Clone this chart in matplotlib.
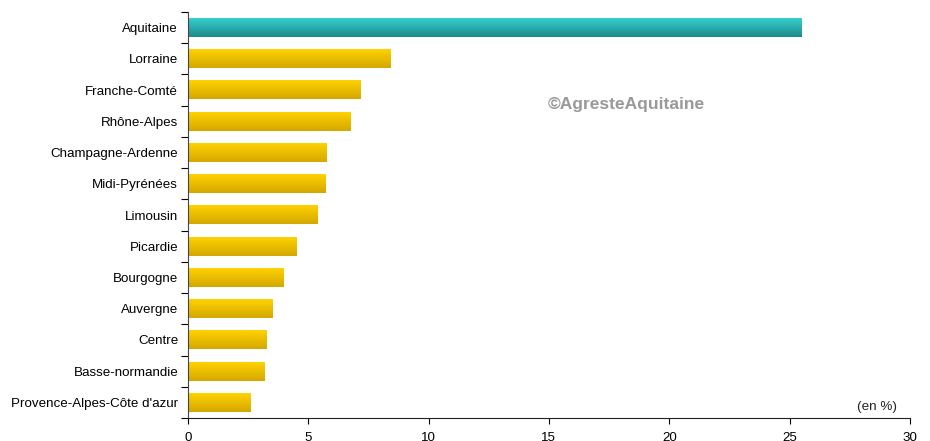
import numpy as np
import matplotlib.pyplot as plt
from matplotlib.colors import LinearSegmentedColormap

plt.rcParams['font.family'] = ['Liberation Sans', 'DejaVu Sans']

regions = ['Aquitaine', 'Lorraine', 'Franche-Comté', 'Rhône-Alpes', 'Champagne-Ardenne',
           'Midi-Pyrénées', 'Limousin', 'Picardie', 'Bourgogne', 'Auvergne', 'Centre',
           'Basse-normandie', "Provence-Alpes-Côte d'azur"]
values = [25.5, 8.43, 7.15, 6.73, 5.77, 5.73, 5.40, 4.49, 3.95, 3.49, 3.28, 3.16, 2.58]

fig = plt.figure(figsize=(9.3, 4.41), dpi=100)
ax = fig.add_axes([0.202, 0.052, 0.7765, 0.9208])

y = np.arange(len(regions))
bars = ax.barh(y, values, height=0.6, color='none', edgecolor='none')

yellow = LinearSegmentedColormap.from_list('y', ['#D4A800', '#FFD200'])
teal = LinearSegmentedColormap.from_list('t', ['#1F8A8A', '#35CFCF'])
grad = np.linspace(0, 1, 64).reshape(-1, 1)
for i, b in enumerate(bars):
    x0, y0 = b.get_x(), b.get_y()
    w, h = b.get_width(), b.get_height()
    cmap = teal if i == 0 else yellow
    # y axis inverted, so the light end goes on top
    ax.imshow(grad, cmap=cmap, aspect='auto', extent=[x0, x0 + w, y0, y0 + h],
              origin='upper', zorder=2, interpolation='bilinear')

ax.set_xlim(0, 30)
ax.set_ylim(len(regions) - 0.5, -0.5)
ax.set_xticks([0, 5, 10, 15, 20, 25, 30])
ax.set_yticks(y)
ax.set_yticklabels(regions)
ax.set_yticks(np.arange(len(regions) + 1) - 0.5, minor=True)
ax.tick_params(axis='y', which='major', length=0, pad=7, labelsize=9.6)
ax.tick_params(axis='y', which='minor', length=5, width=0.8, direction='out')
ax.tick_params(axis='x', length=4, width=0.8, direction='out', labelsize=9.6, pad=6)

for s in ['top', 'right']:
    ax.spines[s].set_visible(False)
ax.spines['left'].set_color('#444444')
ax.spines['bottom'].set_color('#222222')

ax.text(0.4986, 0.773, '©AgresteAquitaine', transform=ax.transAxes, fontsize=12.5,
        fontweight='bold', color='#999999', va='center', ha='left')
ax.text(0.982, 0.027, '(en %)', transform=ax.transAxes, fontsize=9.7,
        ha='right', va='center', color='#222222')

fig.savefig('out.png', dpi=100)
